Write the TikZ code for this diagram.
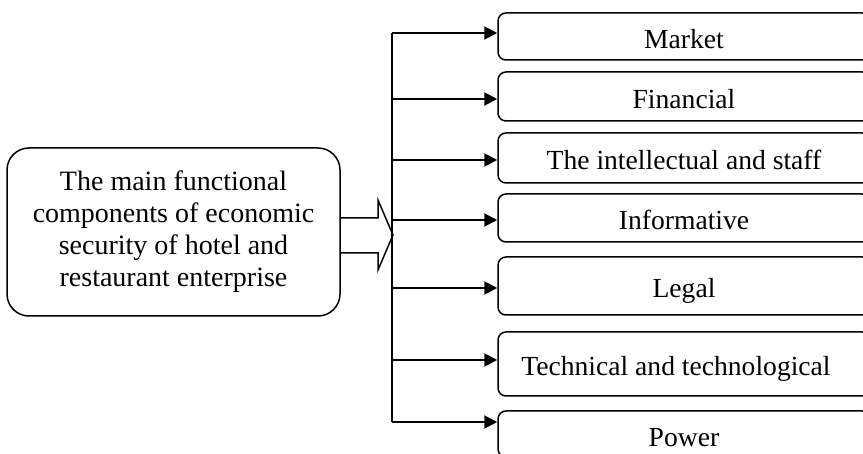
\documentclass[tikz,border=0pt]{standalone}
\usepackage{fontspec}
\setmainfont{Liberation Serif}
\usetikzlibrary{arrows.meta}

\begin{document}
\begin{tikzpicture}[x=0.5pt,y=-0.5pt,>={Triangle[length=6.5pt,width=6.5pt]},
	part/.style={draw,line width=0.75pt,rounded corners=4pt,minimum width=186pt,inner sep=0pt,text height=12pt,text depth=0pt,font=\fontsize{13.8}{16}\selectfont},
	link/.style={->,line width=1pt}]
	\useasboundingbox (0,0) rectangle (863,454);
	\clip (0,0) rectangle (863,454);
	\node[draw,line width=0.75pt,rounded corners=11pt,minimum width=166.5pt,minimum height=84pt,align=center,font=\fontsize{14}{16}\selectfont] (main) at (173.5,232) {The main functional\\components of economic\\security of hotel and\\restaurant enterprise};
	\node[part,minimum height=23.5pt] (market) at (684,36.5) {Market};
	\node[part,minimum height=24.5pt] (financial) at (684,96.5) {Financial};
	\node[part,minimum height=25pt] (staff) at (684,158) {The intellectual and staff};
	\node[part,minimum height=24pt] (info) at (684,218) {Informative};
	\node[part,minimum height=29pt] (legal) at (684,286) {Legal};
	\node[part,minimum height=32pt] (tech) at (684,364) {Technical and technological\kern8pt};
	\node[part,minimum height=23pt] (power) at (684,434) {Power};
	\coordinate (b1) at (392,33);
	\coordinate (b2) at (392,99);
	\coordinate (b3) at (392,160);
	\coordinate (b4) at (392,220);
	\coordinate (b5) at (392,288);
	\coordinate (b6) at (392,360);
	\coordinate (b7) at (392,422);
	\coordinate (tip) at (393,235);
	\draw[line width=1pt] (b1)--(b7);
	\draw[link] (b1)--(b1 -| market.west);
	\draw[link] (b2)--(b2 -| financial.west);
	\draw[link] (b3)--(b3 -| staff.west);
	\draw[link] (b4)--(b4 -| info.west);
	\draw[link] (b5)--(b5 -| legal.west);
	\draw[link] (b6)--(b6 -| tech.west);
	\draw[link] (b7)--(b7 -| power.west);
	\draw[line width=0.75pt] (main.east |- 0,218)--(378,218)--(378,200)--(tip)--(378,270)--(378,253)--(main.east |- 0,253);
\end{tikzpicture}
\end{document}
